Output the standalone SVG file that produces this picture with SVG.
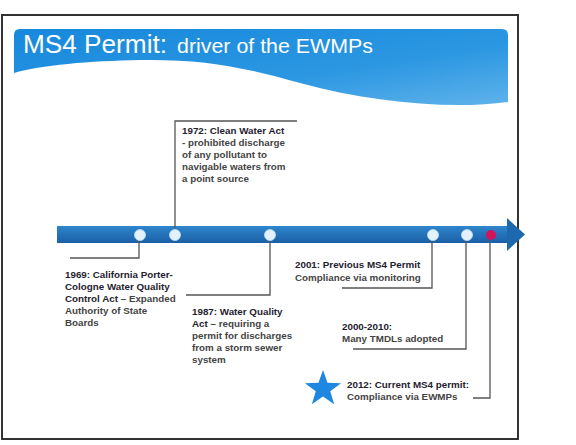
<svg xmlns="http://www.w3.org/2000/svg" width="576" height="445" viewBox="0 0 576 445">
<defs>
<linearGradient id="banner" x1="0" y1="0" x2="1" y2="1">
<stop offset="0" stop-color="#1788dc"/>
<stop offset="0.6" stop-color="#2b97e2"/>
<stop offset="1" stop-color="#5fb2ea"/>
</linearGradient>
<linearGradient id="bar" x1="0" y1="0" x2="0" y2="1">
<stop offset="0" stop-color="#2f86cc"/>
<stop offset="1" stop-color="#1a5fa6"/>
</linearGradient>
<style>
.t{font-family:"Liberation Sans",Arial,sans-serif;font-size:9.8px;font-weight:bold;fill:#444}
.h{fill:#1f2230}
.c{fill:none;stroke:#555;stroke-width:1.3}
.dot{fill:#e2f1fb;stroke:#bfe0f5;stroke-width:0.8}
</style>
</defs>
<rect x="0" y="0" width="576" height="445" fill="#fff"/>
<rect x="2" y="15" width="516" height="424" fill="#fff" stroke="#333" stroke-width="2"/>
<g id="banner-title">
<path d="M14,35 Q14,29 20,29 L502,29 Q508,29 508,35 L508,102 C450,110 370,102 300,83 C240,66 200,59 140,60 C90,61 40,65 14,73 Z" fill="url(#banner)"/>
<text x="23" y="53" font-family="'Liberation Sans',Arial,sans-serif" font-size="26" fill="#fff" textLength="144" lengthAdjust="spacingAndGlyphs">MS4 Permit:</text>
<text x="177" y="53" font-family="'Liberation Sans',Arial,sans-serif" font-size="20" fill="#fff" textLength="196" lengthAdjust="spacingAndGlyphs">driver of the EWMPs</text>
</g>
<g id="timeline">
<rect x="57" y="226" width="451" height="17" fill="url(#bar)"/>
<polygon points="507,218 525,234.5 507,251" fill="#1c69b0"/>
</g>
<g id="connectors">
<polyline class="c" points="139,241 139,258 70,258"/>
<polyline class="c" points="175,228 175,121 297,121"/>
<polyline class="c" points="270,241 270,295 186,295"/>
<polyline class="c" points="432,241 432,288 342,288"/>
<polyline class="c" points="466,241 466,349 353,349"/>
<polyline class="c" points="490,241 490,398 473,398"/>
</g>
<g id="dots">
<circle class="dot" cx="140" cy="235" r="5.5"/>
<circle class="dot" cx="175" cy="235" r="5.5"/>
<circle class="dot" cx="270" cy="235" r="5.5"/>
<circle class="dot" cx="433" cy="235" r="5.5"/>
<circle class="dot" cx="467" cy="235" r="5.5"/>
<circle cx="491" cy="235" r="5" fill="#d3135c"/>
</g>
<g id="n1969">
<text class="t h" x="65" y="277.5">1969: California Porter-</text>
<text class="t h" x="65" y="289.5">Cologne Water Quality</text>
<text class="t" x="65" y="301.5"><tspan class="h">Control Act</tspan> – Expanded</text>
<text class="t" x="65" y="313.5">Authority of State</text>
<text class="t" x="65" y="325.5">Boards</text>
</g>
<g id="n1972">
<text class="t h" x="182" y="134">1972: Clean Water Act</text>
<text class="t" x="182" y="146">- prohibited discharge</text>
<text class="t" x="182" y="158">of any pollutant to</text>
<text class="t" x="182" y="170">navigable waters from</text>
<text class="t" x="182" y="182">a point source</text>
</g>
<g id="n1987">
<text class="t h" x="192" y="315">1987: Water Quality</text>
<text class="t" x="192" y="327"><tspan class="h">Act</tspan> – requiring a</text>
<text class="t" x="192" y="339">permit for discharges</text>
<text class="t" x="192" y="351">from a storm sewer</text>
<text class="t" x="192" y="363">system</text>
</g>
<g id="n2001">
<text class="t h" x="295" y="267.5">2001: Previous MS4 Permit</text>
<text class="t" x="295" y="280.5">Compliance via monitoring</text>
</g>
<g id="n2000">
<text class="t h" x="342" y="330">2000-2010:</text>
<text class="t" x="342" y="342">Many TMDLs adopted</text>
</g>
<g id="n2012">
<polygon points="323,370 327.47,382.85 341.07,383.13 330.23,391.35 334.17,404.37 323,396.6 311.83,404.37 315.77,391.35 304.93,383.13 318.53,382.85" fill="#1e88e0"/>
<text class="t h" x="347" y="387.5">2012: Current MS4 permit:</text>
<text class="t" x="347" y="399.5">Compliance via EWMPs</text>
</g>
</svg>
